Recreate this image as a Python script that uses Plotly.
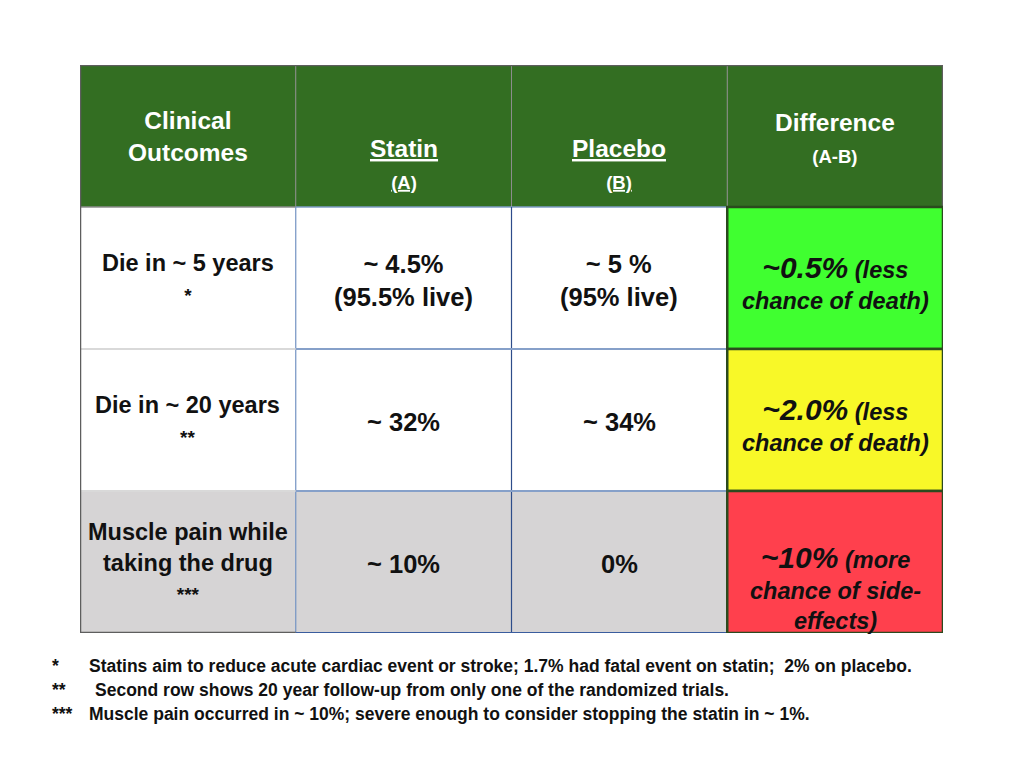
import plotly.graph_objects as go

# ---------------- data ----------------
header_main = ["Clinical<br>Outcomes", "<u>Statin</u>", "<u>Placebo</u>", "Difference"]
header_sub = ["", "<u>(A)</u>", "<u>(B)</u>", "(A-B)"]
row_labels = ["Die in ~ 5 years", "Die in ~ 20 years", "Muscle pain while<br>taking the drug"]
row_marks = ["*", "**", "***"]
statin_vals = ["~ 4.5%<br>(95.5% live)", "~ 32%", "~ 10%"]
placebo_vals = ["~ 5 %<br>(95% live)", "~ 34%", "0%"]
diff_main = ["~0.5%", "~2.0%", "~10%"]
diff_rest = [" (less<br>chance of death)", " (less<br>chance of death)", " (more<br>chance of side-<br>effects)"]
foot_marks = ["*", "**", "***"]
foot_texts = [
    "Statins aim to reduce acute cardiac event or stroke; 1.7% had fatal event on statin;  2% on placebo.",
    "Second row shows 20 year follow-up from only one of the randomized trials.",
    "Muscle pain occurred in ~ 10%; severe enough to consider stopping the statin in ~ 1%.",
]

# ---------------- styles ----------------
FONT = "Liberation Sans, Arial, Helvetica, sans-serif"
HEADER_GREEN = "#336E22"
ROW_FILLS = ["#FFFFFF", "#FFFFFF", "#D6D4D5"]
DIFF_FILLS = ["#40FF30", "#F8F828", "#FF404D"]
DIFF_BORDER = "#2B4A1E"
OUTER = "#5E5E5E"
OFF = 8  # page body margin in the browser

fig = go.Figure()
shapes = []
annotations = []

# cell fills
for c in range(4):
    shapes.append(dict(type="rect", xref="x", yref="y", x0=c, x1=c + 1, y0=0, y1=1,
                       fillcolor=HEADER_GREEN, line=dict(width=0), layer="below"))
for r in range(3):
    for c in range(3):
        shapes.append(dict(type="rect", xref="x", yref="y", x0=c, x1=c + 1, y0=r + 1, y1=r + 2,
                           fillcolor=ROW_FILLS[r], line=dict(width=0), layer="below"))

def seg(x0, y0, x1, y1, color, width):
    shapes.append(dict(type="line", xref="x", yref="y", x0=x0, y0=y0, x1=x1, y1=y1,
                       line=dict(color=color, width=width)))

# header vertical separators
for c in (1, 2, 3):
    seg(c, 0, c, 1, "#8C8C8C", 1)
# header bottom
seg(0, 1, 1, 1, "#8C8C8C", 1.5)
seg(1, 1, 3, 1, "#7F9CC6", 1.5)
# body verticals
seg(1, 1, 1, 4, "#7392C2", 1.2)
seg(2, 1, 2, 4, "#2E4D8A", 1.2)
# body horizontals
for r in (2, 3):
    seg(0, r, 1, r, "#D9D9D9", 2)
    seg(1, r, 3, r, "#86A0C9", 2)
seg(1, 4, 3, 4, "#3A5C9E", 2)
# outer border
seg(0, 0, 0, 4, OUTER, 2.5)
seg(0, 0, 4, 0, OUTER, 2.5)
seg(4, 0, 4, 1, OUTER, 2.5)
seg(0, 4, 1, 4, OUTER, 2.5)

# difference cells
for r in range(3):
    shapes.append(dict(type="rect", xref="x", yref="y", x0=3, x1=4, y0=r + 1, y1=r + 2,
                       fillcolor=DIFF_FILLS[r], line=dict(color=DIFF_BORDER, width=2.5)))

# header text
for c in range(4):
    if header_sub[c]:
        txt = f"<b>{header_main[c]}</b><br><b><span style='font-size:18.5px'>{header_sub[c]}</span></b>"
    else:
        txt = f"<b>{header_main[c]}</b>"
    ysh = {0: 0, 1: -28, 2: -28, 3: -2}[c]
    annotations.append(dict(xref="x", yref="y", x=c + 0.5, y=0.5, text=txt, showarrow=False,
                            yshift=ysh, align="center",
                            font=dict(family=FONT, size=24.5, color="white")))

# body text
for r in range(3):
    yc = r + 1.5
    annotations.append(dict(xref="x", yref="y", x=0.5, y=yc,
                            text=f"<b>{row_labels[r]}<br><span style='font-size:19px'>{row_marks[r]}</span></b>",
                            showarrow=False, align="center",
                            font=dict(family=FONT, size=23.5, color="#111111")))
    annotations.append(dict(xref="x", yref="y", x=1.5, y=yc, text=f"<b>{statin_vals[r]}</b>",
                            showarrow=False, align="center", yshift=-2,
                            font=dict(family=FONT, size=25.5, color="#111111")))
    annotations.append(dict(xref="x", yref="y", x=2.5, y=yc, text=f"<b>{placebo_vals[r]}</b>",
                            showarrow=False, align="center", yshift=-2,
                            font=dict(family=FONT, size=25.5, color="#111111")))
    dtxt = (f"<b><i><span style='font-size:30px'>{diff_main[r]}</span>"
            f"{diff_rest[r]}</i></b>")
    ysh = -25 if r == 2 else -4
    annotations.append(dict(xref="x", yref="y", x=3.5, y=yc, text=dtxt,
                            showarrow=False, align="center", yshift=ysh,
                            font=dict(family=FONT, size=23.5, color="#111111")))

# footnotes
foot_y = [666, 690, 714]
foot_x = [89, 95, 89]
for i in range(3):
    yy = 1 - (foot_y[i] - OFF) / 768
    annotations.append(dict(xref="paper", yref="paper", x=(50 - OFF) / 1024, y=yy,
                            xanchor="left", yanchor="middle", text=f"<b>{foot_marks[i]}</b>",
                            showarrow=False, font=dict(family=FONT, size=17.5, color="#111111")))
    annotations.append(dict(xref="paper", yref="paper", x=(foot_x[i] - OFF - 2) / 1024, y=yy,
                            xanchor="left", yanchor="middle", text=f"<b>{foot_texts[i]}</b>",
                            showarrow=False, font=dict(family=FONT, size=17.5, color="#111111")))

fig.update_layout(
    width=1024, height=768,
    margin=dict(l=0, r=0, t=0, b=0),
    paper_bgcolor="white", plot_bgcolor="white",
    showlegend=False,
    shapes=shapes, annotations=annotations,
    xaxis=dict(range=[0, 4], domain=[(80 - OFF) / 1024, (943 - OFF) / 1024], visible=False, fixedrange=True),
    yaxis=dict(range=[4, 0], domain=[1 - (633 - OFF) / 768, 1 - (65 - OFF) / 768], visible=False, fixedrange=True),
)

fig.write_html("out.html")
